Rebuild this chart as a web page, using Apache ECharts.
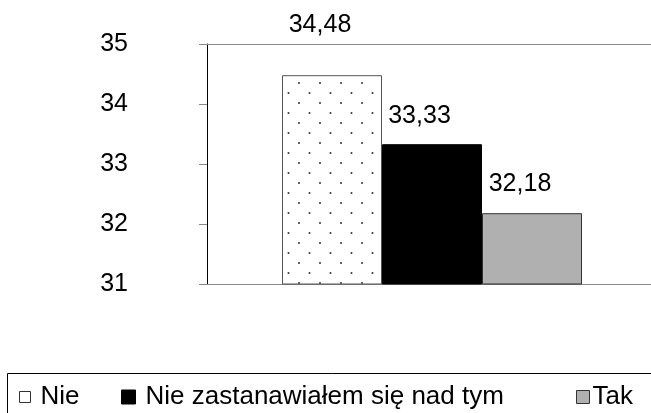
<!DOCTYPE html>
<html><head><meta charset="utf-8">
<script src="https://cdn.jsdelivr.net/npm/echarts@6/dist/echarts.min.js"></script>
<style>html,body{margin:0;padding:0;background:#fff;overflow:hidden}#c{width:657px;height:413px}</style>
</head><body><div id="c"></div>
<script>
const categories = [''];
const seriesNames = ['Nie', 'Nie zastanawiałem się nad tym', 'Tak'];
const seriesValues = [[34.48], [33.33], [32.18]];
const yTicks = [31, 32, 33, 34, 35];

// dotted pattern
const pc = document.createElement('canvas');
pc.width = 21; pc.height = 20;
const pctx = pc.getContext('2d');
pctx.fillStyle = '#fff'; pctx.fillRect(0, 0, 21, 20);
pctx.fillStyle = '#333';
pctx.beginPath(); pctx.arc(5, 3, 1, 0, Math.PI * 2); pctx.fill();
pctx.beginPath(); pctx.arc(15.5, 13, 1, 0, Math.PI * 2); pctx.fill();

const fills = [{image: pc, repeat: 'repeat'}, '#000000', '#b0b0b0'];
const borders = ['#555', '#000', '#333'];
const labelOffsets = [[-12, -33], [-12.5, -11], [-12, -12]];
const font = 'Liberation Sans, Arial, sans-serif';
const FS = 25;
const LFS = 26;

const chart = echarts.init(document.getElementById('c'));
chart.setOption({
  animation: false,
  textStyle: {fontFamily: font},
  grid: {left: 207, top: 44, width: 450, height: 240},
  xAxis: [{
    type: 'category', data: categories,
    axisLine: {show: true, lineStyle: {color: '#888', width: 1}},
    axisTick: {show: false}, axisLabel: {show: false}
  }, {
    type: 'category', data: categories, position: 'top',
    axisLine: {show: true, lineStyle: {color: '#888', width: 1}},
    axisTick: {show: false}, axisLabel: {show: false}
  }],
  yAxis: {
    type: 'value', min: yTicks[0], max: yTicks[yTicks.length - 1], interval: 1,
    axisLine: {show: true, lineStyle: {color: '#000', width: 1}},
    axisTick: {show: true, length: 8, lineStyle: {color: '#888'}},
    splitLine: {show: false},
    axisLabel: {color: '#000', fontSize: FS, fontFamily: font, margin: 79}
  },
  legend: seriesNames.map((n, i) => ({
    left: [19, 121, 576][i], top: 384, padding: 0,
    itemWidth: [11, 14, 13][i], itemHeight: [11, 14, 13][i], itemGap: 0,
    icon: 'rect',
    textStyle: {fontSize: LFS, color: '#000', fontFamily: font, padding: [0, 0, 0, [5, 5, -2][i]]},
    data: [{name: n, itemStyle: i === 0 ? {color: '#fff', borderColor: '#333', borderWidth: 1} : {color: fills[i], borderColor: borders[i], borderWidth: 1}}]
  })),
  graphic: [{
    type: 'rect', shape: {x: 7.5, y: 373.5, width: 700, height: 100},
    style: {fill: 'none', stroke: '#000', lineWidth: 1}
  }],
  series: seriesNames.map((n, i) => ({
    name: n, type: 'bar', data: seriesValues[i],
    barGap: '0%', barWidth: 100,
    itemStyle: {color: fills[i], borderColor: borders[i], borderWidth: 1},
    label: {
      show: true, position: 'top', offset: labelOffsets[i], distance: 5,
      fontSize: FS, lineHeight: FS, color: '#000', fontFamily: font,
      formatter: p => String(p.value).replace('.', ',')
    }
  }))
});
</script></body></html>
